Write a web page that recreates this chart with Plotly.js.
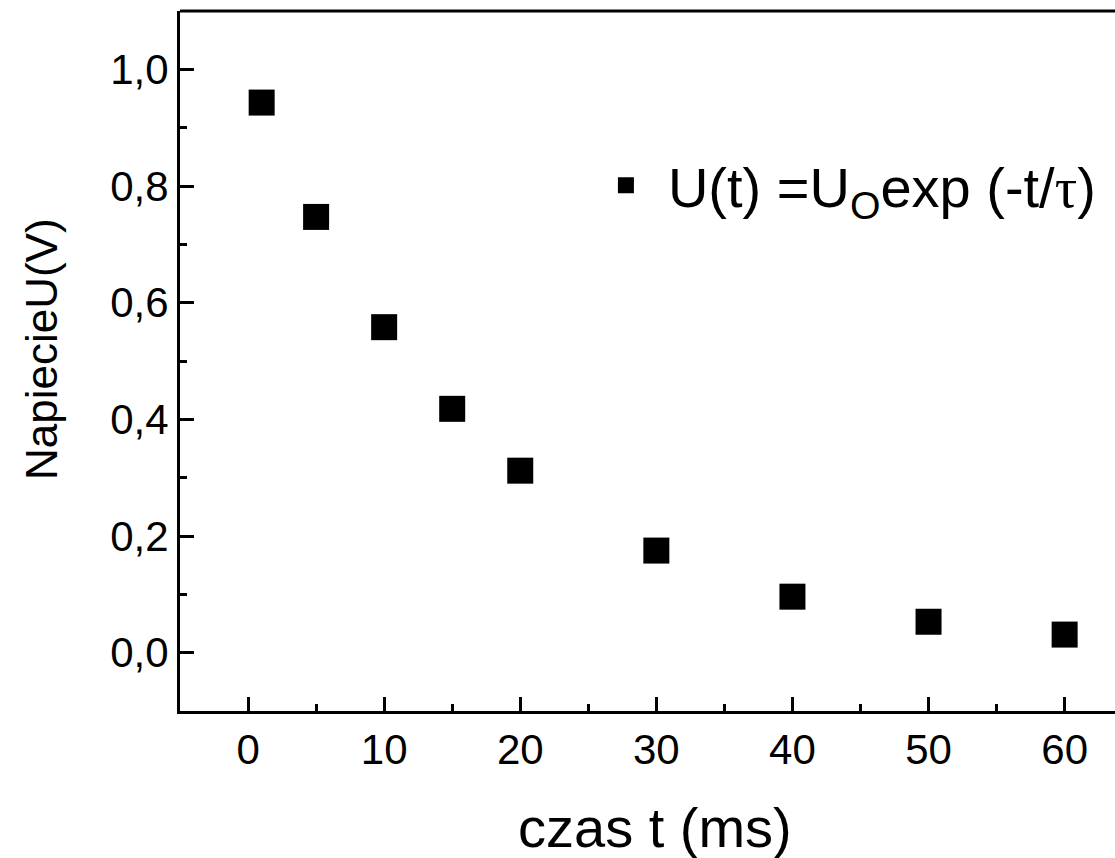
<!DOCTYPE html>
<html>
<head>
<meta charset="utf-8">
<script src="https://cdn.plot.ly/plotly-3.0.1.min.js"></script>
<style>html,body{margin:0;padding:0;background:#fff;overflow:hidden}</style>
</head>
<body>
<div id="chart" style="width:1115px;height:858px"></div>
<script>
const timeMs = [1, 5, 10, 15, 20, 30, 40, 50, 60];
const voltage = [0.943, 0.747, 0.558, 0.418, 0.312, 0.175, 0.096, 0.053, 0.031];
const seriesName = 'U(t) =U<sub>O</sub>exp (-t/<span style="font-family:\'Liberation Serif\',\'Times New Roman\',serif">τ</span>)';
const xTitle = 'czas t (ms)';
const yTitle = 'NapiecieU(V)';

const FONT = "'Liberation Sans', Arial, sans-serif";

const trace = {
  x: timeMs, y: voltage, type: 'scatter', mode: 'markers', name: seriesName,
  marker: {symbol: 'square', size: 26, color: '#000', line: {width: 0}}
};

const layout = {
  width: 1115, height: 858,
  margin: {l: 180, r: 0, t: 11, b: 147},
  paper_bgcolor: '#fff', plot_bgcolor: '#fff',
  separators: ', ',
  font: {family: FONT, color: '#000'},
  showlegend: true,
  legend: {x: 0.432, y: 0.751, xanchor: 'left', yanchor: 'middle', bgcolor: 'rgba(0,0,0,0)',
           font: {size: 56, family: FONT}, itemsizing: 'trace', itemwidth: 74},
  xaxis: {
    range: [-5, 63.7], showgrid: false, zeroline: false,
    showline: true, linecolor: '#000', linewidth: 3,
    ticks: 'inside', ticklen: 14, tickwidth: 3, tickcolor: '#000',
    tickvals: [0, 10, 20, 30, 40, 50, 60],
    minor: {tickvals: [5, 15, 25, 35, 45, 55], ticks: 'inside', ticklen: 7, tickwidth: 3, tickcolor: '#000'},
    tickfont: {size: 42, family: FONT}
  },
  yaxis: {
    range: [-0.1, 1.1], showgrid: false, zeroline: false,
    showline: true, linecolor: '#000', linewidth: 3,
    ticks: 'inside', ticklen: 14, tickwidth: 3, tickcolor: '#000',
    tickvals: [0, 0.2, 0.4, 0.6, 0.8, 1.0], tickformat: '.1f',
    minor: {tickvals: [0.1, 0.3, 0.5, 0.7, 0.9], ticks: 'inside', ticklen: 7, tickwidth: 3, tickcolor: '#000'},
    tickfont: {size: 42, family: FONT}
  },
  annotations: [
    {text: xTitle, xref: 'paper', yref: 'paper', x: 0.508, y: -0.167, xanchor: 'center', yanchor: 'middle',
     showarrow: false, font: {size: 56, family: FONT, color: '#000'}},
    {text: yTitle, xref: 'paper', yref: 'paper', x: -0.1487, y: 0.517, xanchor: 'center', yanchor: 'middle',
     textangle: -90, showarrow: false, font: {size: 44, family: FONT, color: '#000'}}
  ],
  shapes: [{type: 'line', xref: 'paper', yref: 'paper', x0: 0, x1: 1, y0: 1, y1: 1,
            line: {color: '#000', width: 3}}]
};

Plotly.newPlot('chart', [trace], layout, {displayModeBar: false, staticPlot: true});
</script>
</body>
</html>
